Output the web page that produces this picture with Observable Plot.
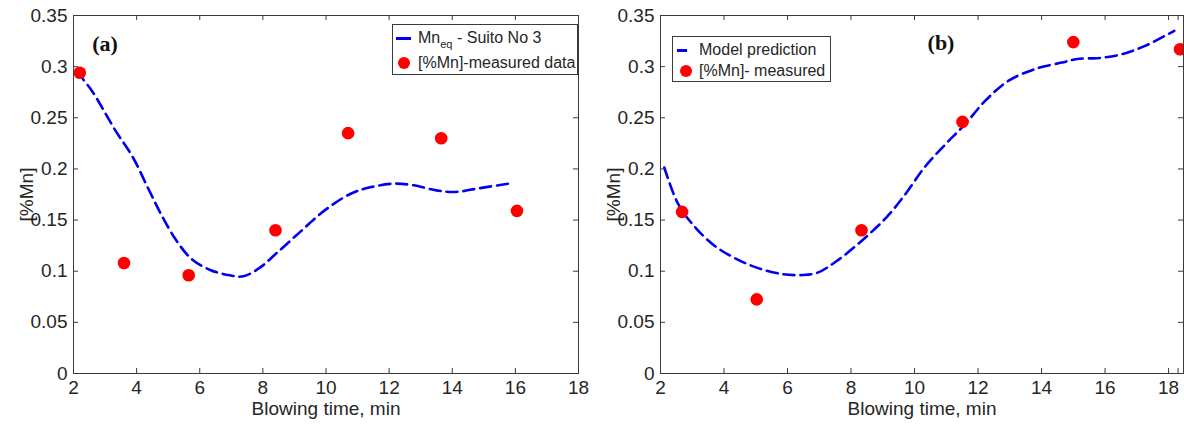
<!DOCTYPE html>
<html>
<head>
<meta charset="utf-8">
<script src="https://cdn.jsdelivr.net/npm/d3@7"></script>
<script src="https://cdn.jsdelivr.net/npm/@observablehq/plot@0.6"></script>
<style>
  body { margin: 0; background: #fff; font-family: "Liberation Sans", Arial, sans-serif; }
  #fig { position: relative; width: 1184px; height: 428px; overflow: hidden; background: #fff; }
  .panel { position: absolute; top: 0; }
  .legend { position: absolute; background: #fff; border: 1px solid #3a3a3a; box-sizing: border-box;
            font-size: 16px; color: #262626; }
  .row { position: absolute; left: 0; height: 20px; line-height: 20px; white-space: nowrap; }
  .swatch-line { position: absolute; height: 3px; background: #0000f0; }
  .swatch-dot { position: absolute; width: 12px; height: 12px; border-radius: 50%; background: #ff0000; }
  .row span.txt { position: absolute; top: 0; }
  sub { font-size: 11px; vertical-align: -5px; line-height: 0; }
  .tag { position: absolute; font-family: "Liberation Serif", "Times New Roman", serif; font-weight: bold;
         font-size: 22px; color: #111; line-height: 22px; transform: translate(-50%, -50%); }
</style>
</head>
<body>
<div id="fig"></div>
<script>
// Shared axis ticks
const xTicks = [2, 4, 6, 8, 10, 12, 14, 16, 18];
const yTicks = [0, 0.05, 0.1, 0.15, 0.2, 0.25, 0.3, 0.35];

// (a) equilibrium Mn (Suito No 3) against measured [%Mn]
const timeModelA = [2.11, 2.59, 3.32, 3.87, 4.35, 4.77, 5.26, 5.74, 6.35, 6.95, 7.38, 7.93, 8.41, 9.13, 9.98, 10.8, 11.4, 12.16, 12.77, 13.5, 14.1, 14.83, 15.86];
const mnModelA   = [0.295, 0.276, 0.238, 0.212, 0.182, 0.156, 0.130, 0.112, 0.101, 0.096, 0.095, 0.104, 0.117, 0.137, 0.160, 0.176, 0.182, 0.1856, 0.184, 0.179, 0.1775, 0.181, 0.186];
const timeMeasA  = [2.2, 3.6, 5.65, 8.4, 10.7, 13.65, 16.05];
const mnMeasA    = [0.294, 0.108, 0.096, 0.14, 0.235, 0.23, 0.159];

// (b) model prediction against measured [%Mn]
const timeModelB = [2.12, 2.56, 3.1, 3.71, 4.31, 5.03, 5.87, 6.47, 6.95, 7.55, 8.33, 9.11, 9.71, 10.31, 10.97, 11.57, 12.23, 12.95, 13.8, 14.64, 15.12, 15.84, 16.56, 17.28, 18.0, 18.18];
const mnModelB   = [0.2014, 0.1655, 0.1427, 0.1247, 0.1133, 0.1035, 0.097, 0.0963, 0.0986, 0.110, 0.1296, 0.1525, 0.1753, 0.2014, 0.224, 0.243, 0.2667, 0.286, 0.2977, 0.304, 0.3075, 0.3085, 0.3124, 0.3206, 0.332, 0.335];
const timeMeasB  = [2.68, 5.03, 8.33, 11.51, 15.0, 18.36];
const mnMeasB    = [0.158, 0.0725, 0.14, 0.246, 0.324, 0.317];

const legendA = ["Mn<sub>eq</sub> - Suito No 3", "[%Mn]-measured data"];
const legendB = ["Model prediction", "[%Mn]- measured"];
const tagA = "(a)", tagB = "(b)";

const ink = "#3a3a3a";
const H = 428, MT = 15, MB = 55;

function zip(ts, vs) { return ts.map((t, i) => ({t, mn: vs[i]})); }

function panel({width, marginLeft, marginRight, xDomain, tickMarks, model, measured}) {
  const innerW = width - marginLeft - marginRight;
  const innerH = H - MT - MB;
  return Plot.plot({
    width, height: H, marginTop: MT, marginBottom: MB, marginLeft, marginRight,
    style: {fontFamily: '"Liberation Sans", Arial, sans-serif', fontSize: "19px", color: "#262626", background: "white", overflow: "visible"},
    x: {domain: xDomain},
    y: {domain: [0, 0.35]},
    marks: [
      Plot.line(model, {x: "t", y: "mn", stroke: "#0000f0", strokeWidth: 2.6, strokeDasharray: "11,6", curve: "catmull-rom"}),
      Plot.dot(measured, {x: "t", y: "mn", r: 6.3, fill: "#ff0000"}),
      // inward tick marks on all four sides
      Plot.tickX(tickMarks, {x: d => d, stroke: ink, insetTop: innerH - 5}),
      Plot.tickX(tickMarks, {x: d => d, stroke: ink, insetBottom: innerH - 5}),
      Plot.tickY(yTicks, {y: d => d, stroke: ink, insetRight: innerW - 5}),
      Plot.tickY(yTicks, {y: d => d, stroke: ink, insetLeft: innerW - 5}),
      Plot.axisX({ticks: xTicks, tickSize: 0, tickPadding: 7, tickFormat: d3.format("~g"), fontSize: 19,
                  label: "Blowing time, min", labelAnchor: "center", labelArrow: "none", labelOffset: 41}),
      Plot.axisY({ticks: yTicks, tickSize: 0, tickPadding: 6, tickFormat: d3.format("~g"), fontSize: 19,
                  label: "[%Mn]", labelAnchor: "center", labelArrow: "none", labelOffset: 54}),
      Plot.frame({stroke: ink, strokeWidth: 1})
    ]
  });
}

const fig = document.getElementById("fig");

function place(node, left) {
  const d = document.createElement("div");
  d.className = "panel";
  d.style.left = left + "px";
  d.appendChild(node);
  fig.appendChild(d);
}

place(panel({width: 600, marginLeft: 73, marginRight: 22, xDomain: [2, 18],
  tickMarks: xTicks, model: zip(timeModelA, mnModelA), measured: zip(timeMeasA, mnMeasA)}), 0);
place(panel({width: 584, marginLeft: 60, marginRight: 1, xDomain: [2, 18.47],
  tickMarks: [...xTicks, 18.3], model: zip(timeModelB, mnModelB), measured: zip(timeMeasB, mnMeasB)}), 600);

// legend boxes
function legend(labels, box, lineSw, dotSw, textX, rowYs) {
  const lg = document.createElement("div");
  lg.className = "legend";
  Object.assign(lg.style, {left: box[0] + "px", top: box[1] + "px", width: box[2] + "px", height: box[3] + "px"});
  labels.forEach((txt, i) => {
    const row = document.createElement("div");
    row.className = "row";
    row.style.top = (rowYs[i] - 10) + "px";
    row.style.width = box[2] + "px";
    const sw = document.createElement("div");
    if (i === 0) {
      sw.className = "swatch-line";
      Object.assign(sw.style, {left: lineSw[0] + "px", width: lineSw[1] + "px", top: "9px"});
    } else {
      sw.className = "swatch-dot";
      Object.assign(sw.style, {left: (dotSw - 6) + "px", top: "4px"});
    }
    row.appendChild(sw);
    const s = document.createElement("span");
    s.className = "txt";
    s.style.left = textX + "px";
    s.innerHTML = txt;
    row.appendChild(s);
    lg.appendChild(row);
  });
  fig.appendChild(lg);
}
legend(legendA, [392, 24, 186, 51], [3, 15], 11, 25, [13, 38]);
legend(legendB, [672, 36, 159, 46], [4, 10], 13, 26, [13, 34]);

function tag(text, x, y) {
  const t = document.createElement("div");
  t.className = "tag";
  t.textContent = text;
  t.style.left = x + "px";
  t.style.top = y + "px";
  fig.appendChild(t);
}
tag(tagA, 105, 44);
tag(tagB, 941, 43);
</script>
</body>
</html>
